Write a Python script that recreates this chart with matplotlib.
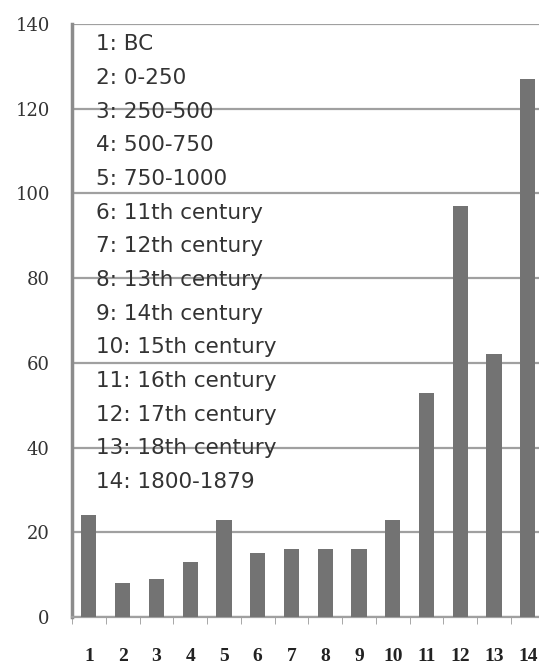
import matplotlib.pyplot as plt

# periods and counts
periods = ['1', '2', '3', '4', '5', '6', '7', '8', '9', '10', '11', '12', '13', '14']
counts = [24, 8, 9, 13, 23, 15, 16, 16, 16, 23, 53, 97, 62, 127]
key_labels = ['1: BC', '2: 0-250', '3: 250-500', '4: 500-750', '5: 750-1000',
              '6: 11th century', '7: 12th century', '8: 13th century', '9: 14th century',
              '10: 15th century', '11: 16th century', '12: 17th century',
              '13: 18th century', '14: 1800-1879']
y_ticks = [0, 20, 40, 60, 80, 100, 120, 140]

fig = plt.figure(figsize=(5.39, 6.70), dpi=100)
ax = fig.add_axes([0.1336, 0.0791, 0.8664, 0.8851])

x = list(range(1, len(periods) + 1))
ax.bar(x, counts, width=0.45, color='#737373', zorder=3)

ax.set_xlim(0.5, 14.33)
ax.set_ylim(0, 140)
ax.set_yticks(y_ticks)
ax.set_yticklabels([str(v) for v in y_ticks], fontsize=13,
                   family='DejaVu Serif', color='#333333')
ax.set_xticks(x)
ax.set_xticklabels(periods, fontsize=14, family='Liberation Serif',
                   fontweight='bold', color='#222222')
ax.set_xticks([i + 0.5 for i in range(14)], minor=True)
ax.tick_params(axis='x', which='major', length=0, pad=22)
ax.tick_params(axis='x', which='minor', length=5, color='#999999', direction='out')
ax.tick_params(axis='y', length=0, pad=16)

ax.grid(axis='y', color='#a0a0a0', linewidth=1.6, zorder=0)
for s in ['top', 'right']:
    ax.spines[s].set_visible(False)
ax.spines['left'].set_color('#8c8c8c')
ax.spines['left'].set_linewidth(2.5)
ax.spines['bottom'].set_color('#a0a0a0')
ax.spines['bottom'].set_linewidth(1.6)

# key drawn as plain text inside the plot
for i, lab in enumerate(key_labels):
    ax.text(0.052, 0.966 - i * 0.0568, lab, transform=ax.transAxes,
            fontsize=15.5, family='DejaVu Sans', color='#333333',
            va='center', ha='left', zorder=4)

fig.savefig('out.png', dpi=100)
